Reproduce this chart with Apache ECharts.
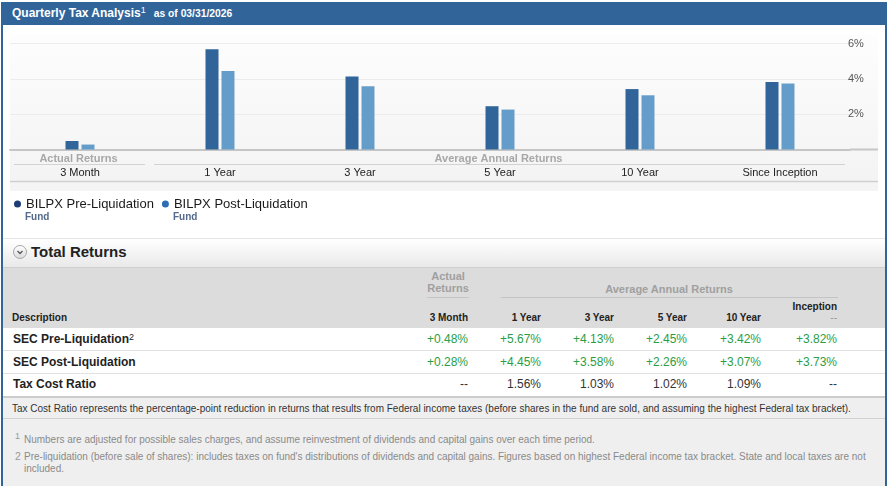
<!DOCTYPE html>
<html><head><meta charset="utf-8">
<script src="https://cdn.jsdelivr.net/npm/echarts@6/dist/echarts.min.js"></script>
<style>
html,body{margin:0;padding:0}
body{width:888px;height:487px;position:relative;overflow:hidden;background:#fff;font-family:'Liberation Sans',Arial,sans-serif}
.abs{position:absolute;white-space:nowrap}
.sup{position:relative;font-weight:normal}
.fn{transform-origin:0 0}
</style></head><body>
<script>
// ---------- DATA ----------
const categories = ['3 Month', '1 Year', '3 Year', '5 Year', '10 Year', 'Since Inception'];
const tableColumns = ['3 Month', '1 Year', '3 Year', '5 Year', '10 Year', 'Inception'];
const preLiquidation = [0.48, 5.67, 4.13, 2.45, 3.42, 3.82];
const postLiquidation = [0.28, 4.45, 3.58, 2.26, 3.07, 3.73];
const taxCostRatio = [null, 1.56, 1.03, 1.02, 1.09, null];
const yTicks = [0, 2, 4, 6];
const seriesNames = ['BILPX Pre-Liquidation', 'BILPX Post-Liquidation'];
const rowLabels = ['SEC Pre-Liquidation', 'SEC Post-Liquidation', 'Tax Cost Ratio'];
</script>

<div class="abs" style="left:1px;top:2px;width:882px;height:482px;border:2px solid #31659a;border-top:0"></div>
<div class="abs" style="left:1px;top:2px;width:886px;height:23px;background:#31659a;z-index:3"></div>
<div class="abs" style="left:12px;top:2px;height:23px;line-height:23px;color:#fff;font-weight:bold;font-size:12px;z-index:4">Quarterly Tax Analysis<span class="sup" style="font-size:9px;top:-4px">1</span><span style="font-size:10.3px;margin-left:8px">as of 03/31/2026</span></div>

<div class="abs" style="left:10px;top:35px;width:868px;height:156px;background:linear-gradient(#fdfdfd,#f3f3f3)"></div>
<div class="abs" style="left:10px;top:182px;width:868px;height:9px;background:#f4f4f4"></div>

<div id="chart" class="abs" style="left:0;top:0;width:888px;height:235px;z-index:2"></div>

<!-- Total returns band -->
<div class="abs" style="left:3px;top:238px;width:882px;height:29px;border-top:1px solid #e4e4e4;background:linear-gradient(#ffffff,#e8e8e8)"></div>
<div class="abs" style="left:13px;top:245px;width:12px;height:12px;border-radius:50%;border:1px solid #a8a8a8;background:linear-gradient(#ffffff,#dcdcdc)"></div>
<svg class="abs" style="left:13px;top:245px" width="14" height="14"><path d="M4.5 6 L7 8.5 L9.5 6" fill="none" stroke="#555" stroke-width="1.3"/></svg>
<div class="abs" style="left:31px;top:243px;line-height:18px;font-size:15px;font-weight:bold;color:#222">Total Returns</div>

<div class="abs" style="left:3px;top:267px;width:882px;height:60px;background:#dcdcdc;border-top:1px solid #cfcfcf"></div>
<div class="abs" style="left:3px;top:350px;width:882px;height:1px;background:#e2e2e2"></div>
<div class="abs" style="left:3px;top:373px;width:882px;height:1px;background:#e2e2e2"></div>
<div class="abs" style="left:3px;top:396px;width:882px;height:88px;background:#efefef;border-top:2px solid #cdcdcd"></div>
<div class="abs" style="left:3px;top:418px;width:882px;height:1px;background:#d2d2d2"></div>

<div id="table"></div>

<div class="abs fn" data-w="839" style="left:12px;top:402px;line-height:13px;font-size:11px;color:#333">Tax Cost Ratio represents the percentage-point reduction in returns that results from Federal income taxes (before shares in the fund are sold, and assuming the highest Federal tax bracket).</div>
<div class="abs" style="left:15px;top:430px;line-height:13px;font-size:9px;color:#999">1</div>
<div class="abs fn" data-w="571" style="left:24px;top:433px;line-height:13px;font-size:11px;color:#8a8a8a">Numbers are adjusted for possible sales charges, and assume reinvestment of dividends and capital gains over each time period.</div>
<div class="abs" style="left:15px;top:450px;line-height:13px;font-size:10.5px;color:#999">2</div>
<div class="abs fn" data-w="842" style="left:24px;top:450px;line-height:12px;font-size:11px;color:#8a8a8a">Pre-liquidation (before sale of shares): includes taxes on fund's distributions of dividends and capital gains. Figures based on highest Federal income tax bracket. State and local taxes are not<br>included.</div>

<script>
// condense footnote text to the reference line widths
document.querySelectorAll('.fn').forEach(el => {
  const w = el.scrollWidth, target = +el.dataset.w;
  if (w > 0) el.style.transform = 'scaleX(' + (target / w) + ')';
});

// ---------- TABLE (HTML text) ----------
(function(){
  const t = document.getElementById('table');
  const colRight = [468, 541, 614, 687, 761, 837];
  function put(html, x, yc, css, alignRight) {
    const d = document.createElement('div');
    d.className = 'abs';
    d.innerHTML = html;
    d.style.cssText += ';top:' + (yc - 7) + 'px;line-height:14px;' + css + (alignRight ? ';right:' + (888 - x) + 'px' : ';left:' + x + 'px');
    t.appendChild(d);
  }
  const fmt = v => (v >= 0 ? '+' : '') + v.toFixed(2) + '%';
  put('Actual<br>Returns', 448, 277, 'font-size:11px;font-weight:bold;color:#a0a0a0;text-align:center;line-height:12px;transform:translateX(-50%)');
  const u1 = document.createElement('div'); u1.className='abs'; u1.style.cssText='left:427px;top:297px;width:42px;height:1px;background:#c4c4c4'; t.appendChild(u1);
  put('Average Annual Returns', 669, 289, 'font-size:11px;font-weight:bold;color:#a0a0a0;transform:translateX(-50%)');
  const u2 = document.createElement('div'); u2.className='abs'; u2.style.cssText='left:501px;top:297px;width:337px;height:1px;background:#c4c4c4'; t.appendChild(u2);
  put('Description', 12, 318, 'font-size:10px;font-weight:bold;color:#222');
  tableColumns.forEach((c, i) => {
    if (i === tableColumns.length - 1) {
      put(c, colRight[i], 307, 'font-size:10px;font-weight:bold;color:#222', true);
      put('--', colRight[i], 318, 'font-size:10px;color:#999', true);
    } else {
      put(c, colRight[i], 318, 'font-size:10px;font-weight:bold;color:#222', true);
    }
  });
  const rowsY = [339, 362, 384];
  put(rowLabels[0] + '<span class="sup" style="font-size:9px;top:-3px">2</span>', 13, rowsY[0], 'font-size:12px;font-weight:bold;color:#222');
  put(rowLabels[1], 13, rowsY[1], 'font-size:12px;font-weight:bold;color:#222');
  put(rowLabels[2], 13, rowsY[2], 'font-size:12px;font-weight:bold;color:#222');
  preLiquidation.forEach((v, i) => put(fmt(v), colRight[i], rowsY[0], 'font-size:12px;color:#2a9e46', true));
  postLiquidation.forEach((v, i) => put(fmt(v), colRight[i], rowsY[1], 'font-size:12px;color:#2a9e46', true));
  taxCostRatio.forEach((v, i) => put(v == null ? '--' : v.toFixed(2) + '%', colRight[i], rowsY[2], 'font-size:12px;color:#333', true));
})();

// ---------- CHART ----------
const chart = echarts.init(document.getElementById('chart'), null, {renderer: 'canvas'});
chart.setOption({
  animation: false,
  backgroundColor: 'transparent',
  textStyle: {fontFamily: 'Liberation Sans, Arial, sans-serif'},
  grid: {left: 10, right: 38, top: 43.5, bottom: 85.5},
  legend: {
    left: 14, top: 196, icon: 'circle', itemWidth: 7, itemHeight: 7, itemGap: 8,
    padding: 0,
    textStyle: {fontSize: 13, color: '#1a1a1a', lineHeight: 16},
    selectedMode: false,
    data: [
      {name: seriesNames[0], itemStyle: {color: '#1c3d78'}},
      {name: seriesNames[1], itemStyle: {color: '#2c6db5'}}
    ]
  },
  xAxis: {
    type: 'category', data: categories,
    axisLine: {show: true, lineStyle: {color: '#c6c6c6', width: 2}},
    axisTick: {show: false},
    axisLabel: {color: '#222', fontSize: 11, margin: 18}
  },
  yAxis: {
    type: 'value', position: 'right', min: yTicks[0], max: yTicks[yTicks.length - 1], interval: yTicks[1] - yTicks[0],
    axisLine: {show: false}, axisTick: {show: false},
    axisLabel: {color: '#555', fontSize: 11, margin: -2, formatter: v => v === 0 ? '' : v + '%'},
    splitLine: {lineStyle: {color: '#ececec'}}
  },
  series: [
    {name: seriesNames[0], type: 'bar', data: preLiquidation, barWidth: 13, barGap: '23%', itemStyle: {color: '#31659a'}},
    {name: seriesNames[1], type: 'bar', data: postLiquidation, barWidth: 13, itemStyle: {color: '#659dca'}}
  ],
  graphic: [
    {type: 'line', shape: {x1: 850, y1: 149.5, x2: 878, y2: 149.5}, style: {stroke: '#c6c6c6', lineWidth: 2}},
    {type: 'text', x: 78.5, y: 158.5, style: {text: 'Actual Returns', fill: '#a8a8a8', font: 'bold 11px Liberation Sans, Arial', align: 'center', verticalAlign: 'middle', textAlign: 'center', textVerticalAlign: 'middle'}},
    {type: 'line', shape: {x1: 14, y1: 164.5, x2: 145, y2: 164.5}, style: {stroke: '#d2d2d2', lineWidth: 1}},
    {type: 'text', x: 498.5, y: 158.5, style: {text: 'Average Annual Returns', fill: '#a8a8a8', font: 'bold 11px Liberation Sans, Arial', align: 'center', verticalAlign: 'middle', textAlign: 'center', textVerticalAlign: 'middle'}},
    {type: 'line', shape: {x1: 154, y1: 164.5, x2: 845, y2: 164.5}, style: {stroke: '#d2d2d2', lineWidth: 1}},
    {type: 'line', shape: {x1: 10, y1: 181.5, x2: 878, y2: 181.5}, style: {stroke: '#cfcfcf', lineWidth: 1.5}},
    {type: 'text', x: 25, y: 217, style: {text: 'Fund', fill: '#56698c', font: 'bold 10px Liberation Sans, Arial', verticalAlign: 'middle', textVerticalAlign: 'middle'}},
    {type: 'text', x: 173, y: 217, style: {text: 'Fund', fill: '#56698c', font: 'bold 10px Liberation Sans, Arial', verticalAlign: 'middle', textVerticalAlign: 'middle'}}
  ]
});
</script>
</body></html>
